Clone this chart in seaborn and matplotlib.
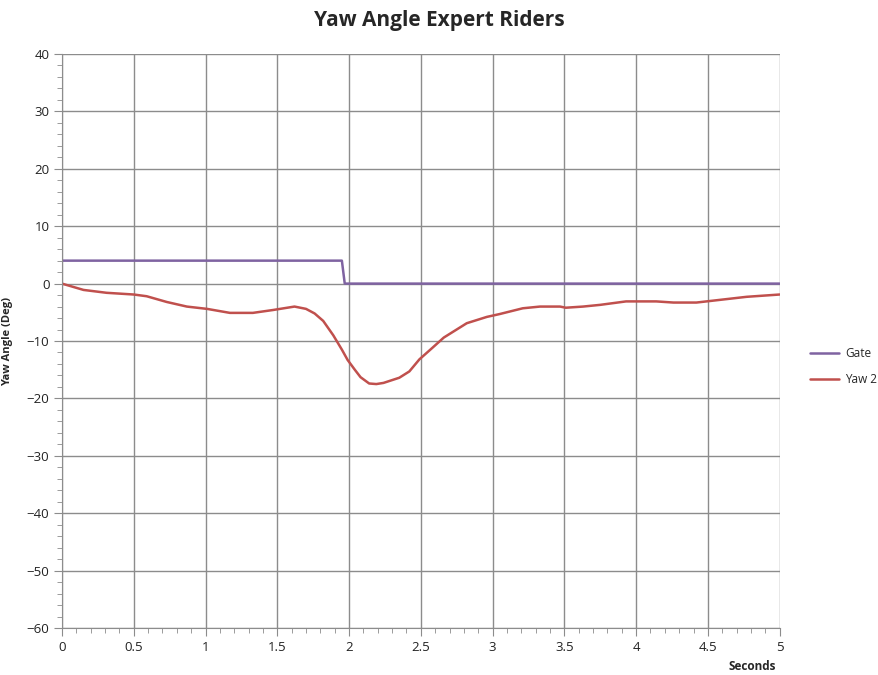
import pandas as pd
import matplotlib.pyplot as plt
from matplotlib.ticker import MultipleLocator, FormatStrFormatter
import seaborn as sns

# data
gate_t = [0, 1.95, 1.97, 5.0]
gate_v = [4, 4, 0, 0]

yaw_t = [0, 0.15, 0.31, 0.50, 0.59, 0.73, 0.87, 1.01, 1.17, 1.33, 1.47, 1.62,
         1.70, 1.76, 1.82, 1.89, 1.95, 1.99, 2.04, 2.08, 2.14, 2.19, 2.24,
         2.35, 2.42, 2.49, 2.58, 2.66, 2.82, 2.96, 3.05, 3.21, 3.33, 3.47,
         3.51, 3.63, 3.75, 3.93, 4.14, 4.26, 4.42, 4.56, 4.77, 5.0]
yaw_v = [0, -1.1, -1.6, -1.9, -2.2, -3.2, -4.0, -4.4, -5.1, -5.1, -4.6, -4.0,
         -4.4, -5.2, -6.5, -9.0, -11.5, -13.3, -15.0, -16.3, -17.4, -17.5,
         -17.3, -16.4, -15.3, -13.2, -11.2, -9.4, -6.9, -5.8, -5.3, -4.3,
         -4.0, -4.0, -4.2, -4.0, -3.7, -3.1, -3.1, -3.3, -3.3, -2.9, -2.3, -1.9]

df = pd.concat([
    pd.DataFrame({'t': gate_t, 'v': gate_v, 'series': 'Gate'}),
    pd.DataFrame({'t': yaw_t, 'v': yaw_v, 'series': 'Yaw 2'}),
])

sns.set_style('white')
plt.rcParams['font.family'] = ['Open Sans', 'DejaVu Sans']

fig = plt.figure(figsize=(8.79, 6.75), dpi=100)
ax = fig.add_axes([0.0705, 0.0696, 0.8165, 0.8504])

sns.lineplot(data=df, x='t', y='v', hue='series', sort=False,
             palette={'Gate': '#7F63A1', 'Yaw 2': '#C0504D'},
             linewidth=1.8, ax=ax)

ax.set_xlim(0, 5)
ax.set_ylim(-60, 40)
ax.xaxis.set_major_locator(MultipleLocator(0.5))
ax.xaxis.set_minor_locator(MultipleLocator(0.1))
ax.xaxis.set_major_formatter(FormatStrFormatter('%g'))
ax.yaxis.set_major_locator(MultipleLocator(10))
ax.yaxis.set_minor_locator(MultipleLocator(2))
ax.grid(True, which='major', color='#8c8c8c', linewidth=1)
ax.set_axisbelow(True)
for s in ['top', 'right']:
    ax.spines[s].set_visible(False)
for s in ['left', 'bottom']:
    ax.spines[s].set_color('#8c8c8c')
ax.tick_params(which='both', bottom=True, left=True, direction='out')
ax.tick_params(which='major', length=6, color='#8c8c8c', labelsize=9.5,
               labelcolor='#222222', pad=3)
ax.tick_params(which='minor', length=3.5, color='#8c8c8c')

ax.set_xlabel('')
ax.set_ylabel('Yaw Angle (Deg)', fontsize=8, fontweight='bold', labelpad=10)
fig.text(0.856, 0.007, 'Seconds', fontsize=8.5, fontweight='bold', ha='center')
fig.suptitle('Yaw Angle Expert Riders', fontsize=15, fontweight='bold', y=0.985)

ax.legend(title=None, frameon=False, loc='center left',
          bbox_to_anchor=(1.035, 0.456), borderaxespad=0, fontsize=8.5,
          handlelength=2.5, handletextpad=0.5, labelspacing=1.1)

fig.savefig('out.png', dpi=100)
